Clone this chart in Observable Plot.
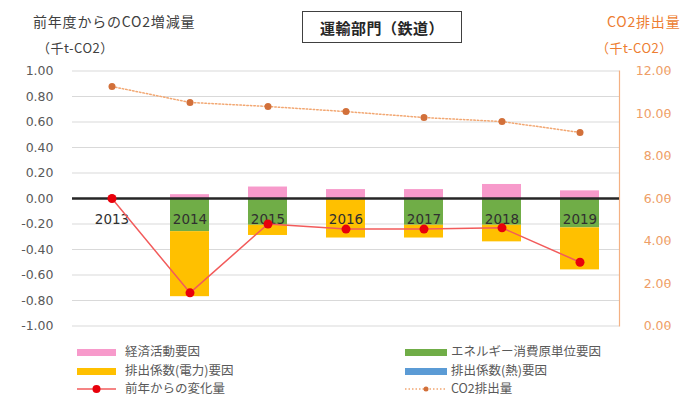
<!DOCTYPE html>
<html>
<head>
<meta charset="utf-8">
<script src="https://cdn.jsdelivr.net/npm/d3@7"></script>
<script src="https://cdn.jsdelivr.net/npm/@observablehq/plot@0.6"></script>
<style>
  body { margin: 0; background: #fff; }
  #chart { position: relative; width: 680px; height: 401px; overflow: hidden;
           font-family: "Noto Sans CJK JP", "Noto Sans", sans-serif; }
  #chart svg { position: absolute; left: 0; top: 0; }
  .t { position: absolute; white-space: nowrap; line-height: 1; }
  .box { position: absolute; left: 302px; top: 11px; width: 158px; height: 30px;
         border: 1.5px solid #404040; display: flex; align-items: center; justify-content: center;
         font-size: 15px; font-weight: 700; color: #262626; letter-spacing: 0.5px; }
  .lg { position: absolute; font-size: 12.5px; color: #595959; white-space: nowrap; line-height: 1; }
  .sw { position: absolute; height: 7px; }
</style>
</head>
<body>
<div id="chart"></div>
<script>
// Fiscal years
const years = ["2013", "2014", "2015", "2016", "2017", "2018", "2019"];

// Decomposition of year-on-year change (thousand t-CO2)
const economicActivity = [0, 0.03, 0.09, 0.07, 0.07, 0.11, 0.06];
const energyIntensity  = [0, -0.26, -0.21, 0, -0.21, -0.21, -0.23];
const elecFactor       = [0, -0.51, -0.08, -0.31, -0.10, -0.13, -0.33];
const heatFactor       = [0, 0, 0, 0, 0, 0, 0];

// Change from previous year (thousand t-CO2)
const changeFromPrev = [0, -0.74, -0.20, -0.24, -0.24, -0.23, -0.50];

// CO2 emissions (thousand t-CO2), right axis
const emissions = [11.27, 10.52, 10.33, 10.09, 9.81, 9.62, 9.11];

// Axis ticks
const leftTicks = [-1, -0.8, -0.6, -0.4, -0.2, 0, 0.2, 0.4, 0.6, 0.8, 1];
const rightTicks = [0, 2, 4, 6, 8, 10, 12];

const factorNames = ["経済活動要因", "エネルギー消費原単位要因", "排出係数(電力)要因", "排出係数(熱)要因"];
const factorColors = ["#F79ACB", "#70AD47", "#FFC000", "#5B9BD5"];
const factorSeries = [economicActivity, energyIntensity, elecFactor, heatFactor];

const bars = [];
factorSeries.forEach((series, i) => {
  series.forEach((v, j) => {
    if (v !== 0) bars.push({year: years[j], factor: factorNames[i], value: v});
  });
});
const changeData = years.map((y, i) => ({year: y, value: changeFromPrev[i]}));
const emissionData = years.map((y, i) => ({year: y, value: emissions[i]}));

// Right axis (0–12) shares the frame with the left axis (−1–1)
const toLeft = v => v / 6 - 1;
const toRight = v => (v + 1) * 6;

const plot = Plot.plot({
  width: 680,
  height: 335,
  marginLeft: 72,
  marginRight: 61,
  marginTop: 70.5,
  marginBottom: 9.5,
  style: {fontFamily: "'DejaVu Sans', sans-serif", background: "transparent"},
  x: {type: "band", domain: years, paddingInner: 0.5, paddingOuter: 0.25, axis: null},
  y: {domain: [-1, 1], label: null},
  color: {domain: factorNames, range: factorColors},
  marks: [
    Plot.gridY(leftTicks, {stroke: "#D9D9D9", strokeOpacity: 1, strokeWidth: 1}),
    Plot.axisY(leftTicks, {anchor: "left", tickSize: 0, tickPadding: 19, label: null,
      tickFormat: d => d.toFixed(2), fill: "#595959", fontSize: 12.5, style: {letterSpacing: "1.3px"}}),
    Plot.axisY(rightTicks.map(toLeft), {anchor: "right", tickSize: 4, tickPadding: 3, label: null,
      tickFormat: d => toRight(d).toFixed(2), textAnchor: "end", dx: 45,
      stroke: "#F4B183", fill: "#EE9E66", fontSize: 12.5, style: {letterSpacing: "0.6px"}}),
    Plot.frame({anchor: "right", stroke: "#F4B183", strokeWidth: 1.2}),
    Plot.barY(bars, {x: "year", y: "value", fill: "factor"}),
    Plot.ruleY([0], {stroke: "#262626", strokeWidth: 2.5}),
    Plot.text(years, {x: d => d, y: 0, dy: 21, text: d => d, fill: "#303030", fontSize: 13.5,
      fontWeight: 500}),
    Plot.line(changeData, {x: "year", y: "value", stroke: "#F25B5B", strokeWidth: 1.5}),
    Plot.dot(changeData, {x: "year", y: "value", r: 4.5, fill: "#E8000B", stroke: "none"}),
    Plot.line(emissionData, {x: "year", y: d => toLeft(d.value), stroke: "#F2A772",
      strokeWidth: 1.5, strokeDasharray: "1.5,2"}),
    Plot.dot(emissionData, {x: "year", y: d => toLeft(d.value), r: 3.5, fill: "#D2703A", stroke: "none"})
  ]
});

const chart = document.getElementById("chart");
chart.appendChild(plot);

// Titles
const html = `
  <div class="t" style="left:33px;top:14px;font-size:14px;color:#404040;letter-spacing:0.8px;">前年度からのCO2増減量</div>
  <div class="t" style="left:37px;top:41px;font-size:13px;color:#404040;letter-spacing:0.5px;">（千t-CO2）</div>
  <div class="box">運輸部門（鉄道）</div>
  <div class="t" style="left:607px;top:14px;font-size:14px;color:#ED7D31;letter-spacing:0.8px;">CO2排出量</div>
  <div class="t" style="left:596px;top:41px;font-size:13px;color:#ED7D31;letter-spacing:0.5px;">（千t-CO2）</div>
`;
chart.insertAdjacentHTML("beforeend", html);

// Legend
const rowsY = [352, 371, 389];
const legendItems = [
  {col: 0, row: 0, label: factorNames[0], kind: "bar", color: factorColors[0]},
  {col: 1, row: 0, label: factorNames[1], kind: "bar", color: factorColors[1]},
  {col: 0, row: 1, label: factorNames[2], kind: "bar", color: factorColors[2]},
  {col: 1, row: 1, label: factorNames[3], kind: "bar", color: factorColors[3]},
  {col: 0, row: 2, label: "前年からの変化量", kind: "solid", color: "#F25B5B", dot: "#E8000B"},
  {col: 1, row: 2, label: "CO2排出量", kind: "dotted", color: "#F2A772", dot: "#D2703A"}
];
const cols = [{sw: 77, w: 39, tx: 125}, {sw: 405, w: 42, tx: 451}];
for (const it of legendItems) {
  const c = cols[it.col], y = rowsY[it.row];
  let sw;
  if (it.kind === "bar") {
    sw = `<div class="sw" style="left:${c.sw}px;top:${y - 3.5}px;width:${c.w}px;background:${it.color}"></div>`;
  } else {
    const dash = it.kind === "dotted" ? "1.5,2" : "none";
    const r = it.kind === "dotted" ? 2.5 : 4;
    sw = `<svg style="position:absolute;left:${c.sw}px;top:${y - 6}px" width="${c.w}" height="12">
      <line x1="0" x2="${c.w}" y1="6" y2="6" stroke="${it.color}" stroke-width="1.5" stroke-dasharray="${dash}"/>
      <circle cx="${c.w / 2}" cy="6" r="${r}" fill="${it.dot}"/></svg>`;
  }
  chart.insertAdjacentHTML("beforeend", sw +
    `<div class="lg" style="left:${c.tx}px;top:${y - 7}px;">${it.label}</div>`);
}
</script>
</body>
</html>
